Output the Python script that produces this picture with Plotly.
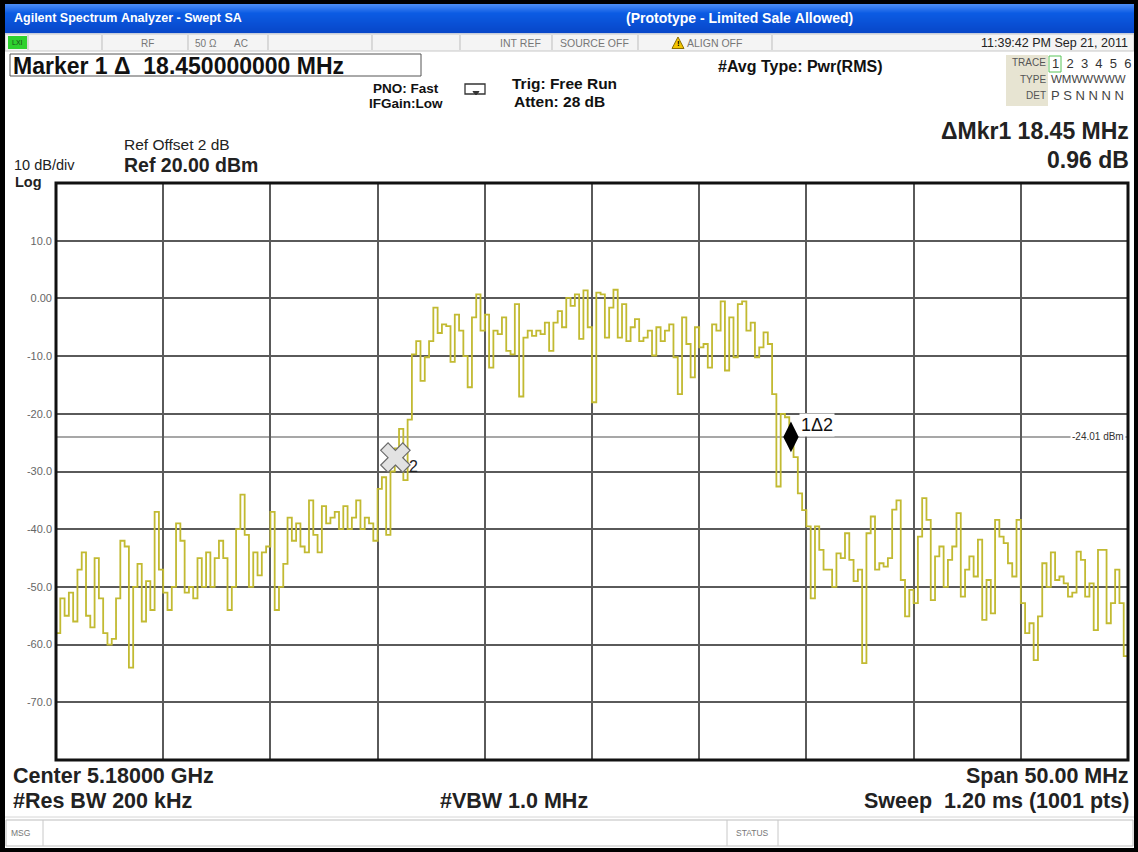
import numpy as np
import plotly.graph_objects as go

W, H = 1138, 852
FONT = "Liberation Sans"

# ---- sweep / trace data -------------------------------------------------
start_mhz = 5155.0
stop_mhz = 5205.0

trace_dbm = [
    -58, -52, -55, -51, -56, -47, -44, -55, -57, -45,
    -52, -58, -60, -59, -52, -42, -43, -64, -50, -46,
    -56, -49, -54, -37, -47, -51, -54, -50, -39, -42,
    -51, -50, -52, -45, -50, -44, -50, -45, -42, -45,
    -54, -50, -40, -34, -41, -50, -44, -48, -44, -43,
    -37, -54, -50, -46, -38, -42, -39, -43, -44, -35,
    -41, -44, -36, -39, -38, -37, -40, -36, -40, -38,
    -35, -40, -38, -39, -42, -33, -31, -41, -30, -26,
    -22.6, -31.5, -21, -9.7, -7.4, -14.3, -10.2, -7.4, -1.6, -6,
    -4.5, -4.8, -11, -2.8, -5.6, -10, -15.4, -3.3, 0.7, -5.6,
    -2.8, -12, -5.6, -6.2, -3.3, -9.1, -9.7, -1, -17, -6.8,
    -5.6, -6.5, -5.6, -6.2, -4.2, -9.1, -4.2, -2.2, -5, 0.1,
    -1.3, 0.7, -7, 1.4, -5, -18, 1.0, 0.7, -6.8, -1.6,
    1.5, -6.8, -1, -7.4, -5, -3.6, -7.4, -6.8, -5.6, -9.9,
    -5, -7.4, -5.6, -4.5, -10.2, -16.6, -3.3, -7.9, -13.7, -5,
    -8.5, -7.9, -12, -4.5, -5.6, -0.5, -12.5, -3.3, -10.2, -1,
    -0.5, -5.6, -4.2, -10.2, -8.5, -5.9, -7.9, -16.6, -32.6, -20,
    -20.6, -24.6, -27.5, -33.8, -36.7, -39.5, -52, -39.5, -43.6, -47,
    -47, -50, -44.2, -45, -40.7, -45.3, -49, -47, -63.2, -40.7,
    -37.8, -47, -45.9, -46.5, -45, -36.6, -35, -48.8, -55.1, -50.5,
    -52.8, -41.3, -34.6, -38.4, -52.3, -44.7, -43, -50, -45.3, -43,
    -37.2, -51.7, -47, -44.7, -48.2, -41.8, -55.7, -48.8, -54.6, -38.4,
    -41.3, -42.4, -45.9, -48.2, -38.4, -52.8, -58, -56.3, -62.7, -55.1,
    -45.9, -50, -44, -48.8, -48.2, -49.4, -51.7, -51, -43.9, -45.3,
    -51.7, -49.4, -57.5, -43.6, -43.6, -56.3, -52.8, -47, -52.8, -62,
    -51.7,
]

amp_ticks = [10, 0, -10, -20, -30, -40, -50, -60, -70]
amp_tick_text = ["10.0", "0.00", "-10.0", "-20.0", "-30.0", "-40.0", "-50.0", "-60.0", "-70.0"]

ref_level_dbm = 20.0
db_per_div = 10.0
display_line_dbm = -24.01

mkr1_mhz = 5189.28
mkr_delta_mhz = 18.45
mkr1_dbm = -24.0
mkr2_dbm = -27.6

freqs = np.linspace(start_mhz, stop_mhz, len(trace_dbm))

# ---- helpers (pixel -> paper) ------------------------------------------
def px(x):
    return x / W


def py(y):
    return 1 - y / H


shapes = []
annotations = []


def rect(x0, y0, x1, y1, fill=None, line=None, lw=1):
    shapes.append(dict(
        type="rect", xref="paper", yref="paper",
        x0=px(x0), x1=px(x1), y0=py(y1), y1=py(y0),
        fillcolor=fill if fill else "rgba(0,0,0,0)",
        line=dict(color=line if line else "rgba(0,0,0,0)", width=lw if line else 0),
    ))


def hline(x0, x1, y, color, lw=1):
    shapes.append(dict(type="line", xref="paper", yref="paper",
                       x0=px(x0), x1=px(x1), y0=py(y), y1=py(y),
                       line=dict(color=color, width=lw)))


def vline(x, y0, y1, color, lw=1):
    shapes.append(dict(type="line", xref="paper", yref="paper",
                       x0=px(x), x1=px(x), y0=py(y0), y1=py(y1),
                       line=dict(color=color, width=lw)))


def path(points, fill, line, lw=1):
    d = "M " + " L ".join("%f,%f" % (px(a), py(b)) for a, b in points) + " Z"
    shapes.append(dict(type="path", xref="paper", yref="paper", path=d,
                       fillcolor=fill, line=dict(color=line, width=lw)))


def txt(x, y, s, size, color="#000", bold=False, anchor="left", family=FONT):
    annotations.append(dict(
        xref="paper", yref="paper", x=px(x), y=py(y),
        text=("<b>%s</b>" % s) if bold else s, showarrow=False,
        xanchor=anchor, yanchor="middle", borderpad=0,
        font=dict(family=family, size=size, color=color)))


NB = "\u00a0"


def nb(s):
    return s.replace(" ", NB)


# ---- window chrome -----------------------------------------------------
# title bar gradient
top_c = np.array([74, 140, 245])
mid_c = np.array([12, 92, 228])
bot_c = np.array([8, 70, 200])
for yy in range(4, 33):
    t = (yy - 4) / 29.0
    if t < 0.3:
        c = top_c + (mid_c - top_c) * (t / 0.3)
    else:
        c = mid_c + (bot_c - mid_c) * ((t - 0.3) / 0.7)
    rect(5, yy, 1134, yy + 1.2, fill="rgb(%d,%d,%d)" % tuple(c.astype(int)))
txt(13, 18, nb("Agilent Spectrum Analyzer - Swept SA"), 12.5, "#ffffff", bold=True)
txt(739, 18, nb("(Prototype - Limited Sale Allowed)"), 14, "#ffffff", bold=True, anchor="center")

# status row
rect(5, 34, 1134, 51, fill="#f4f4f4", line="#c8c8c8", lw=1)
for sx in [28, 102, 188, 268, 372, 460, 552, 638, 772]:
    vline(sx, 35, 50, "#bdbdbd", 1)
rect(8, 36, 27, 49, fill="#2ed12e")
txt(17.5, 42.5, "LXI", 7, "#1a4a1a", anchor="center")
txt(147, 43, "RF", 10, "#777", anchor="center")
txt(206, 43, "50 Ω", 10, "#777", anchor="center")
txt(241, 43, "AC", 10, "#777", anchor="center")
txt(520, 43, nb("INT REF"), 10.5, "#777", anchor="center")
txt(595, 43, nb("SOURCE OFF"), 10.5, "#777", anchor="center")
path([(672, 48.5), (678, 37), (684, 48.5)], "#f2c500", "#8a6d00", 1)
txt(678, 44, "!", 8, "#000", bold=True, anchor="center")
txt(686, 43, nb("ALIGN OFF"), 10.5, "#777")
txt(1129, 43, nb("11:39:42 PM Sep 21, 2011"), 12.5, "#222", anchor="right")

# marker readout box
rect(10, 54, 421, 76, fill="#ffffff", line="#555", lw=1)
txt(12, 65.5, nb("Marker 1 Δ  18.450000000 MHz"), 23, "#111", bold=True)

txt(406, 88, nb("PNO: Fast"), 13.5, "#111", bold=True, anchor="center")
txt(406, 104, "IFGain:Low", 13.5, "#111", bold=True, anchor="center")
# free-run trigger icon
shapes.append(dict(type="rect", xref="paper", yref="paper",
                   x0=px(465), x1=px(485), y0=py(94), y1=py(84),
                   fillcolor="rgba(0,0,0,0)", line=dict(color="#333", width=1.3)))
path([(473, 91.5), (479, 91.5), (476, 95)], "#333", "#333", 1)
txt(511, 84, nb("Trig: Free Run"), 15.5, "#111", bold=True)
txt(513, 102, nb("Atten: 28 dB"), 15.5, "#111", bold=True)
txt(717, 66, nb("#Avg Type: Pwr(RMS)"), 16, "#111", bold=True)

# trace info table
rect(1006, 55, 1048, 106, fill="#e7e4d2")
rect(1049, 56, 1061, 72, line="#58c458", lw=1)
txt(1047, 62, "TRACE", 10, "#555", anchor="right")
txt(1047, 79, "TYPE", 10, "#555", anchor="right")
txt(1047, 96, "DET", 10, "#555", anchor="right")
txt(1051, 64, (NB * 2).join("123456"), 13, "#333")
txt(1050, 79, "WMWWWWW", 11.5, "#444")
txt(1050, 96, NB.join("PSNNNN"), 13, "#444")

# reference / scale labels
txt(123, 145, nb("Ref Offset 2 dB"), 15.5, "#222")
txt(123, 165.5, nb("Ref 20.00 dBm"), 19.5, "#222", bold=True)
txt(13, 165, nb("10 dB/div"), 14.5, "#222")
txt(14, 182, "Log", 14.5, "#222", bold=True)

# delta marker readout
txt(1130, 131, nb("ΔMkr1 18.45 MHz"), 23, "#222", bold=True, anchor="right")
txt(1130, 160, nb("0.96 dB"), 23, "#222", bold=True, anchor="right")

# bottom annotations
txt(12, 776, nb("Center 5.18000 GHz"), 21.5, "#222", bold=True)
txt(12, 801, nb("#Res BW 200 kHz"), 21.5, "#222", bold=True)
txt(514, 801, nb("#VBW 1.0 MHz"), 21.5, "#222", bold=True, anchor="center")
txt(1130, 776, nb("Span 50.00 MHz"), 21.5, "#222", bold=True, anchor="right")
txt(1130, 801, nb("Sweep  1.20 ms (1001 pts)"), 21.5, "#222", bold=True, anchor="right")

# message / status bar
hline(5, 1134, 817, "#d6d6d6", 1)
rect(6, 820, 1133, 846, fill="#ffffff", line="#bdbdbd", lw=1)
vline(43, 820, 846, "#c8c8c8", 1)
vline(727, 820, 846, "#c8c8c8", 1)
vline(778, 820, 846, "#c8c8c8", 1)
txt(10, 833, "MSG", 8.5, "#777")
txt(752, 833, "STATUS", 8.5, "#777", anchor="center")

# outer black frame
rect(0, 0, W, 4, fill="#000")
rect(0, 0, 5, H, fill="#000")
rect(1134, 0, W, H, fill="#000")
rect(0, 848, W, H, fill="#000")

# ---- graticule overlays ------------------------------------------------
shapes.append(dict(type="line", xref="x domain", yref="y",
                   x0=0, x1=1, y0=display_line_dbm, y1=display_line_dbm,
                   line=dict(color="#8a8a8a", width=1.5), layer="below"))
shapes.append(dict(type="rect", xref="x domain", yref="y domain",
                   x0=0, x1=1, y0=0, y1=1,
                   line=dict(color="#111", width=3), fillcolor="rgba(0,0,0,0)"))

annotations.append(dict(xref="x domain", yref="y", x=0.998, y=display_line_dbm,
                        text=nb("-24.01 dBm"), showarrow=False, xanchor="right",
                        yanchor="middle", bgcolor="#ffffff", borderpad=1,
                        font=dict(family=FONT, size=10, color="#333")))

mkr2_mhz = mkr1_mhz - mkr_delta_mhz
annotations.append(dict(xref="x", yref="y", x=mkr1_mhz, y=mkr1_dbm,
                        text="1Δ2", showarrow=False, xanchor="left", yanchor="middle",
                        xshift=8, yshift=12, bgcolor="#ffffff", borderpad=1,
                        font=dict(family=FONT, size=18, color="#111")))
annotations.append(dict(xref="x", yref="y", x=mkr2_mhz, y=mkr2_dbm,
                        text="2", showarrow=False, xanchor="left", yanchor="middle",
                        xshift=12, yshift=-9,
                        font=dict(family=FONT, size=16, color="#222")))

# ---- figure ------------------------------------------------------------
fig = go.Figure()
fig.add_trace(go.Scatter(
    x=freqs, y=trace_dbm, mode="lines",
    line=dict(color="rgb(194,186,50)", width=1.8, shape="hv"),
    hoverinfo="skip", showlegend=False))
fig.add_trace(go.Scatter(
    x=[mkr2_mhz], y=[mkr2_dbm], mode="markers",
    marker=dict(symbol="x", size=26, color="#e2e2e2",
                line=dict(color="#6a6a6a", width=1.2)),
    hoverinfo="skip", showlegend=False))
fig.add_trace(go.Scatter(
    x=[mkr1_mhz], y=[mkr1_dbm], mode="markers",
    marker=dict(symbol="diamond-tall", size=22, color="#000"),
    hoverinfo="skip", showlegend=False))

fig.update_layout(
    width=W, height=H,
    margin=dict(l=0, r=0, t=0, b=0),
    paper_bgcolor="#ffffff", plot_bgcolor="#ffffff",
    shapes=shapes, annotations=annotations,
    xaxis=dict(domain=[px(56), px(1128)], range=[start_mhz, stop_mhz],
               dtick=5, tick0=start_mhz, showgrid=True, gridcolor="#5a5a5a",
               gridwidth=1.6, showticklabels=False, zeroline=False,
               showline=False, ticks=""),
    yaxis=dict(domain=[py(760), py(183)],
               range=[ref_level_dbm - 10 * db_per_div, ref_level_dbm],
               tickvals=amp_ticks, ticktext=amp_tick_text,
               showgrid=True, gridcolor="#5a5a5a", gridwidth=1.6,
               zeroline=False, showline=False, ticks="", ticklabelstandoff=3,
               tickfont=dict(family=FONT, size=11, color="#666")),
    font=dict(family=FONT),
)

fig.write_html("out.html")
